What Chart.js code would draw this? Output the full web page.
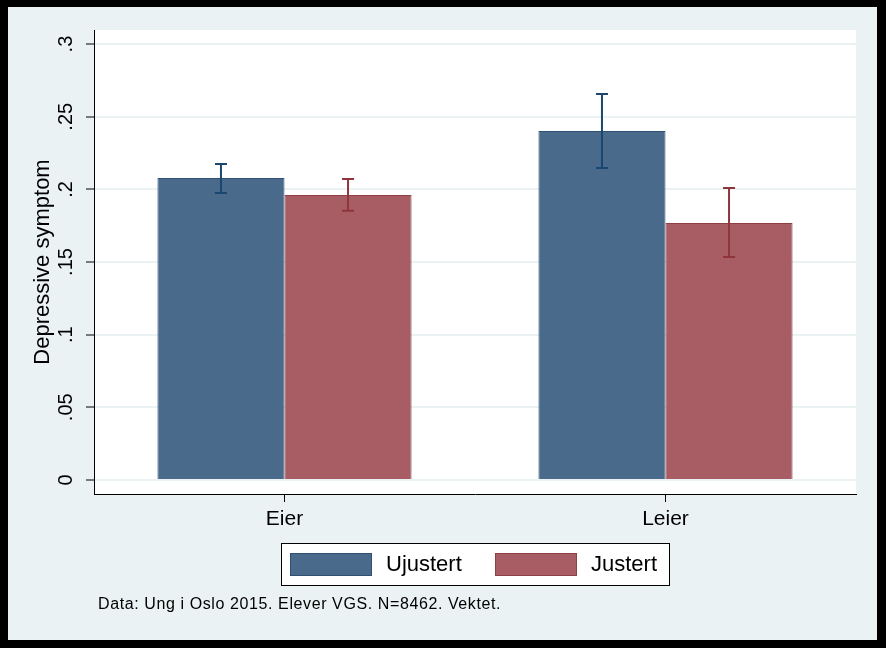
<!DOCTYPE html>
<html>
<head>
<meta charset="utf-8">
<script src="https://cdn.jsdelivr.net/npm/chart.js@4"></script>
<style>
  html, body { margin: 0; padding: 0; background: #000; }
  #wrap { position: absolute; left: 8px; top: 7px; width: 869px; height: 633px; background: #eaf2f3; }
</style>
</head>
<body>
<div id="wrap"><canvas id="chart" width="869" height="633"></canvas></div>
<script>
// Data
const categories = ['Eier', 'Leier'];
const seriesNames = ['Ujustert', 'Justert'];
const ujustert = [0.2078, 0.2402];
const ujustertLow = [0.1975, 0.2147];
const ujustertHigh = [0.2174, 0.2656];
const justert = [0.1961, 0.1768];
const justertLow = [0.1852, 0.1534];
const justertHigh = [0.2071, 0.2009];
const yTicks = [0, 0.05, 0.1, 0.15, 0.2, 0.25, 0.3];
const yTickLabels = ['0', '.05', '.1', '.15', '.2', '.25', '.3'];
const yTitle = 'Depressive symptom';
const caption = 'Data: Ung i Oslo 2015. Elever VGS. N=8462. Vektet.';

const FONT = 'Arial, "Liberation Sans", sans-serif';

// white plot region
const plotBg = {
    id: 'plotBg',
    beforeDraw(chart) {
        const a = chart.chartArea, ctx = chart.ctx;
        ctx.save();
        ctx.fillStyle = '#ffffff';
        ctx.fillRect(a.left, a.top, a.right - a.left, a.bottom - a.top);
        ctx.restore();
    }
};

// error bars drawn from the low/high arrays via the y scale
const errorBars = {
    id: 'errorBars',
    afterDatasetsDraw(chart) {
        const ctx = chart.ctx, y = chart.scales.y;
        chart.data.datasets.forEach((ds, i) => {
            const meta = chart.getDatasetMeta(i);
            meta.data.forEach((bar, j) => {
                const top = y.getPixelForValue(ds.high[j]);
                const bot = y.getPixelForValue(ds.low[j]);
                ctx.save();
                ctx.strokeStyle = ds.errColor;
                ctx.lineWidth = 2;
                ctx.beginPath();
                ctx.moveTo(bar.x, top); ctx.lineTo(bar.x, bot);
                ctx.moveTo(bar.x - 6, top); ctx.lineTo(bar.x + 6, top);
                ctx.moveTo(bar.x - 6, bot); ctx.lineTo(bar.x + 6, bot);
                ctx.stroke();
                ctx.restore();
            });
        });
    }
};

// rotated y tick labels, legend and caption
const extras = {
    id: 'extras',
    afterDraw(chart) {
        const ctx = chart.ctx, y = chart.scales.y;
        ctx.save();
        ctx.fillStyle = '#000';
        ctx.font = '20px ' + FONT;
        ctx.textAlign = 'center';
        ctx.textBaseline = 'middle';
        yTicks.forEach((v, i) => {
            ctx.save();
            ctx.translate(58, y.getPixelForValue(v));
            ctx.rotate(-Math.PI / 2);
            ctx.fillText(yTickLabels[i], 0, 0);
            ctx.restore();
        });

        // legend
        const lx = 273, ly = 536, lw = 388, lh = 42;
        ctx.fillStyle = '#fff';
        ctx.fillRect(lx, ly, lw, lh);
        ctx.strokeStyle = '#000';
        ctx.lineWidth = 1;
        ctx.strokeRect(lx + 0.5, ly + 0.5, lw, lh);
        const itemX = [282, 487];
        ctx.font = '22px ' + FONT;
        ctx.textAlign = 'left';
        chart.data.datasets.forEach((ds, i) => {
            ctx.fillStyle = ds.backgroundColor;
            ctx.fillRect(itemX[i], ly + 10, 82, 23);
            ctx.strokeStyle = ds.borderColor;
            ctx.strokeRect(itemX[i] + 0.5, ly + 10.5, 81, 22);
            ctx.fillStyle = '#000';
            ctx.fillText(ds.label, itemX[i] + 96, ly + 22);
        });

        // caption
        ctx.font = '16px ' + FONT;
        ctx.letterSpacing = '0.6px';
        ctx.fillText(caption, 90, 598);
        ctx.restore();
    }
};

new Chart(document.getElementById('chart').getContext('2d'), {
    type: 'bar',
    data: {
        labels: categories,
        datasets: [{
            label: seriesNames[0],
            data: ujustert,
            low: ujustertLow,
            high: ujustertHigh,
            backgroundColor: '#4a6a8b',
            borderColor: '#2e5074',
            errColor: '#1a476f',
            borderWidth: 1,
            categoryPercentage: 0.667,
            barPercentage: 1
        }, {
            label: seriesNames[1],
            data: justert,
            low: justertLow,
            high: justertHigh,
            backgroundColor: '#a75d63',
            borderColor: '#8e3f46',
            errColor: '#90353b',
            borderWidth: 1,
            categoryPercentage: 0.667,
            barPercentage: 1
        }]
    },
    options: {
        responsive: false,
        animation: false,
        devicePixelRatio: 1,
        layout: { padding: { left: 0, right: 21, top: 23, bottom: 86 } },
        plugins: {
            legend: { display: false },
            tooltip: { enabled: false }
        },
        scales: {
            x: {
                grid: { display: true, offset: false, drawOnChartArea: false, tickColor: '#000', tickLength: 8, tickWidth: 1 },
                border: { color: '#000', width: 1 },
                ticks: { color: '#000', font: { family: FONT, size: 21 }, padding: 5 },
                afterFit(scale) { scale.height = 60; }
            },
            y: {
                min: -0.0097,
                max: 0.3097,
                afterBuildTicks(scale) { scale.ticks = yTicks.map(v => ({ value: v })); },
                grid: { color: '#eaf2f3', lineWidth: 2, tickColor: '#000', tickLength: 8, tickWidth: 1 },
                border: { color: '#000', width: 1 },
                ticks: { display: false },
                title: { display: true, text: yTitle, color: '#000', font: { family: FONT, size: 22 }, padding: { top: 22, bottom: 0 } },
                afterFit(scale) { scale.width = 86; }
            }
        }
    },
    plugins: [plotBg, errorBars, extras]
});
</script>
</body>
</html>
